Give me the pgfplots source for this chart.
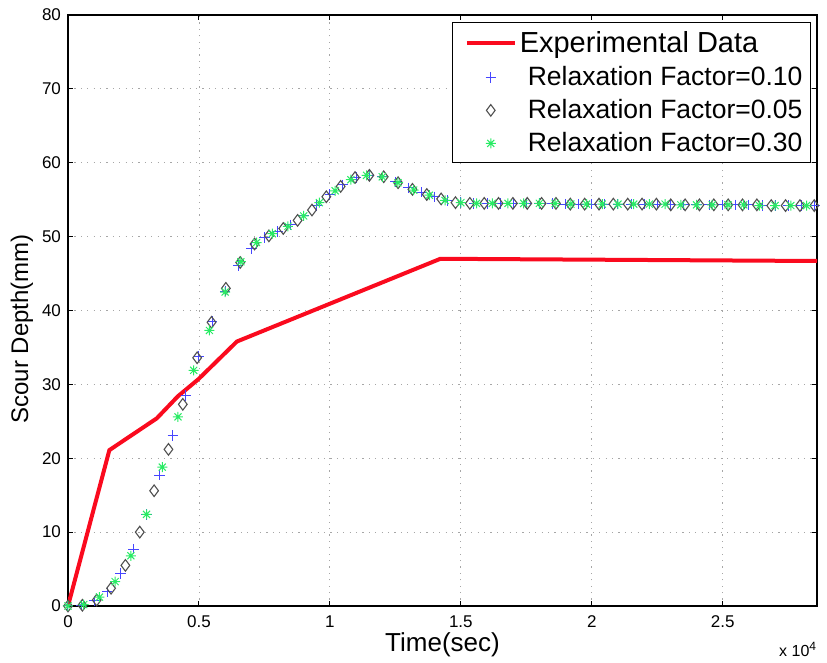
\documentclass[border=0pt]{standalone}
\usepackage{pgfplots}
\pgfplotsset{compat=1.18}
\usepackage{fontspec}
\setmainfont{Liberation Sans}
\definecolor{plusblue}{RGB}{70,70,255}
\definecolor{diagray}{RGB}{80,80,80}
\definecolor{stargreen}{RGB}{40,235,100}
\definecolor{expred}{RGB}{250,10,30}
\pgfdeclareplotmark{mstar}{%
  \pgfpathmoveto{\pgfqpoint{-\pgfplotmarksize}{0pt}}\pgfpathlineto{\pgfqpoint{\pgfplotmarksize}{0pt}}%
  \pgfpathmoveto{\pgfqpoint{0pt}{-\pgfplotmarksize}}\pgfpathlineto{\pgfqpoint{0pt}{\pgfplotmarksize}}%
  \pgfpathmoveto{\pgfqpoint{-.707\pgfplotmarksize}{-.707\pgfplotmarksize}}\pgfpathlineto{\pgfqpoint{.707\pgfplotmarksize}{.707\pgfplotmarksize}}%
  \pgfpathmoveto{\pgfqpoint{-.707\pgfplotmarksize}{.707\pgfplotmarksize}}\pgfpathlineto{\pgfqpoint{.707\pgfplotmarksize}{-.707\pgfplotmarksize}}%
  \pgfusepathqstroke}
\begin{document}
\begin{tikzpicture}
\path[use as bounding box] (0,0) rectangle (413.5pt,331.5pt);
\begin{axis}[
  at={(34pt,28.5pt)}, anchor=south west,
  scale only axis, width=374.5pt, height=295.5pt,
  xmin=0, xmax=2.86, ymin=0, ymax=80,
  xtick={0,0.5,1,1.5,2,2.5},
  ytick={0,10,20,30,40,50,60,70,80},
  /pgf/number format/assume math mode=true,
  ticklabel style={font=\fontsize{8.5}{10}\selectfont},
  xticklabel style={yshift=-1.5pt},
  tick align=inside, major tick length=2.5pt,
  axis line style={line width=0.6pt},
  every tick/.style={black, line width=0.5pt},
  grid=major,
  major grid style={gray!70, line width=0.4pt, dash pattern=on 0.6pt off 2.6pt},
  xlabel={Time(sec)},
  ylabel={Scour Depth(mm)},
  xlabel style={at={(axis description cs:0.5,-0.066)}, anchor=center, font=\fontsize{13}{15}\selectfont},
  ylabel style={at={(axis description cs:-0.0614,0.469)}, anchor=center, font=\fontsize{12}{14}\selectfont},
  legend image code/.code={\path (-4pt,0pt) (27pt,0pt);\draw[mark repeat=2,mark phase=2,#1] plot coordinates {(0pt,0pt) (12pt,0pt) (24pt,0pt)};},
  legend style={at={(axis description cs:1,1)}, anchor=north east, xshift=-3pt, yshift=-3.5pt,
    draw=black, line width=0.5pt, fill=white, cells={anchor=west}, inner sep=2pt,
    row sep=1.4pt},
  legend cell align=left,
]
\addplot[expred, line width=2pt] coordinates {
(0,0) (0.158,21.1) (0.339,25.4) (0.42,28.4) (0.498,30.7) (0.645,35.8) (1.422,47.0) (2.86,46.7)};
\addlegendentry{\fontsize{14.5}{17}\selectfont\hspace{-3.5pt}\rule[-5pt]{0pt}{16pt}Experimental Data}
\addplot[only marks, mark=+, mark size=2.6pt, plusblue, mark options={line width=0.5pt}] coordinates {
(0,0) (0.05,0.1) (0.10,0.7) (0.15,1.9) (0.20,4.4) (0.25,7.7) (0.30,12.4) (0.35,17.7) (0.40,23.1) (0.45,28.5)
(0.50,33.8) (0.55,38.5) (0.60,42.6) (0.65,46.1) (0.70,48.4) (0.75,49.9) (0.80,50.7) (0.85,51.6) (0.90,52.8) (0.95,54.2)
(1.00,55.7) (1.05,57.0) (1.10,58.0) (1.15,58.3) (1.20,58.1) (1.25,57.4) (1.30,56.6) (1.35,56.0) (1.40,55.4) (1.45,54.9)
(1.50,54.6) (1.55,54.5) (1.60,54.5) (1.65,54.5) (1.70,54.5) (1.75,54.5) (1.80,54.5) (1.85,54.5) (1.90,54.4) (1.95,54.4)
(2.00,54.4) (2.05,54.4) (2.10,54.4) (2.15,54.4) (2.20,54.4) (2.25,54.4) (2.30,54.3) (2.35,54.3) (2.40,54.3) (2.45,54.3)
(2.50,54.3) (2.55,54.3) (2.60,54.3) (2.65,54.2) (2.70,54.2) (2.75,54.2) (2.80,54.2) (2.85,54.2)};
\addlegendentry{\fontsize{13.25}{15.5}\selectfont\hspace{0.5pt}Relaxation Factor=0.10}
\addplot[only marks, mark=diamond, mark size=2.9pt, diagray, mark options={line width=0.55pt}] coordinates {
(0,0) (0.0548,0.1) (0.1096,0.8) (0.1644,2.4) (0.2192,5.5) (0.274,10.0) (0.3288,15.6) (0.3836,21.2) (0.4384,27.3) (0.4932,33.6)
(0.548,38.4) (0.6028,43.0) (0.6576,46.5) (0.7124,49.0) (0.7672,50.1) (0.822,51.1) (0.8768,52.2) (0.9316,53.6) (0.9864,55.4) (1.0412,56.8)
(1.096,58.0) (1.1508,58.3) (1.2056,58.1) (1.2604,57.3) (1.3152,56.4) (1.37,55.7) (1.4248,55.1) (1.4796,54.6) (1.5344,54.5) (1.5892,54.5)
(1.644,54.5) (1.6988,54.5) (1.7536,54.5) (1.8084,54.5) (1.8632,54.5) (1.918,54.4) (1.9728,54.4) (2.0276,54.4) (2.0824,54.4) (2.1372,54.4)
(2.192,54.4) (2.2468,54.4) (2.3016,54.3) (2.3564,54.3) (2.4112,54.3) (2.466,54.3) (2.5208,54.3) (2.5756,54.3) (2.6304,54.3) (2.6852,54.2)
(2.74,54.2) (2.7948,54.2) (2.8496,54.2)};
\addlegendentry{\fontsize{13.25}{15.5}\selectfont\hspace{0.5pt}Relaxation Factor=0.05}
\addplot[only marks, mark=mstar, mark size=2.5pt, stargreen, mark options={line width=0.5pt}] coordinates {
(0,0) (0.06,0.2) (0.12,1.2) (0.18,3.3) (0.24,6.8) (0.30,12.4) (0.36,18.8) (0.42,25.6) (0.48,31.9) (0.54,37.3)
(0.60,42.5) (0.66,46.6) (0.72,49.2) (0.78,50.4) (0.84,51.4) (0.90,52.8) (0.96,54.6) (1.02,56.2) (1.08,57.7) (1.14,58.3)
(1.20,58.1) (1.26,57.3) (1.32,56.3) (1.38,55.6) (1.44,54.9) (1.50,54.6) (1.56,54.5) (1.62,54.5) (1.68,54.5) (1.74,54.5)
(1.80,54.5) (1.86,54.5) (1.92,54.4) (1.98,54.4) (2.04,54.4) (2.10,54.4) (2.16,54.4) (2.22,54.4) (2.28,54.4) (2.34,54.3)
(2.40,54.3) (2.46,54.3) (2.52,54.3) (2.58,54.3) (2.64,54.2) (2.70,54.2) (2.76,54.2) (2.82,54.2)};
\addlegendentry{\fontsize{13.25}{15.5}\selectfont\hspace{0.5pt}Relaxation Factor=0.30}
\end{axis}
\node[anchor=center, font=\fontsize{8}{9}\selectfont, inner sep=0pt] at (399.1pt,6.8pt) {x 10\textsuperscript{4}};
\end{tikzpicture}
\end{document}
